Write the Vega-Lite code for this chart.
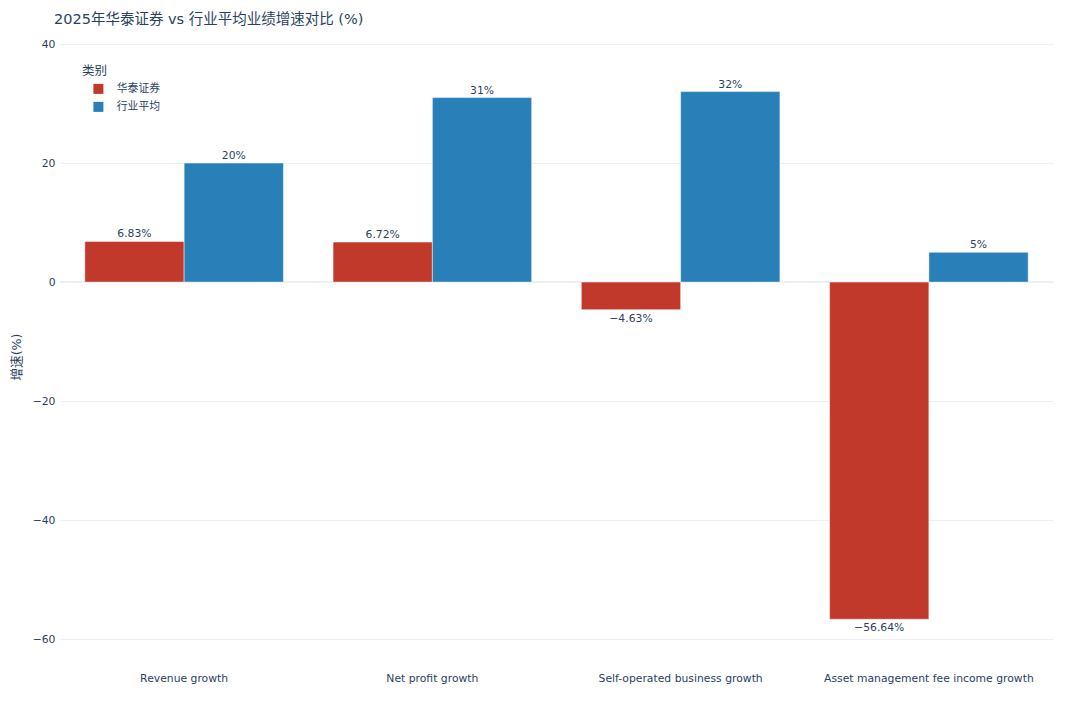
{
  "$schema": "https://vega.github.io/schema/vega-lite/v6.json",
  "autosize": {"type": "none"},
  "width": 993,
  "height": 625,
  "padding": {"left": 60, "top": 44, "right": 27, "bottom": 51},
  "background": "white",
  "config": {
    "font": "DejaVu Sans, Noto Sans CJK SC",
    "view": {"stroke": null},
    "axis": {"labelColor": "#2a3f5f", "titleColor": "#2a3f5f", "labelFont": "DejaVu Sans, Noto Sans CJK SC", "titleFont": "DejaVu Sans, Noto Sans CJK SC"},
    "legend": {"labelFont": "DejaVu Sans, Noto Sans CJK SC", "titleFont": "DejaVu Sans, Noto Sans CJK SC"}
  },
  "title": {
    "text": "2025年华泰证券 vs 行业平均业绩增速对比 (%)",
    "anchor": "start",
    "frame": "group",
    "dx": -6,
    "offset": 11,
    "fontSize": 14.5,
    "fontWeight": "normal",
    "color": "#2a3f5f",
    "font": "DejaVu Sans, Noto Sans CJK SC"
  },
  "data": {
    "values": [
      {"metric": "Revenue growth", "category": "华泰证券", "value": 6.83},
      {"metric": "Revenue growth", "category": "行业平均", "value": 20},
      {"metric": "Net profit growth", "category": "华泰证券", "value": 6.72},
      {"metric": "Net profit growth", "category": "行业平均", "value": 31},
      {"metric": "Self-operated business growth", "category": "华泰证券", "value": -4.63},
      {"metric": "Self-operated business growth", "category": "行业平均", "value": 32},
      {"metric": "Asset management fee income growth", "category": "华泰证券", "value": -56.64},
      {"metric": "Asset management fee income growth", "category": "行业平均", "value": 5}
    ]
  },
  "transform": [
    {"calculate": "format(datum.value, '.4~g') + '%'", "as": "label"}
  ],
  "encoding": {
    "x": {
      "field": "metric",
      "type": "nominal",
      "sort": null,
      "scale": {"paddingInner": 0.2, "paddingOuter": 0.1},
      "axis": {"title": null, "labelAngle": 0, "ticks": false, "domain": false, "labelPadding": 3, "labelFontSize": 10.8, "labelLimit": 0, "grid": false}
    },
    "xOffset": {"field": "category", "type": "nominal", "sort": ["华泰证券", "行业平均"], "scale": {"paddingInner": 0, "paddingOuter": 0}},
    "y": {
      "field": "value",
      "type": "quantitative",
      "scale": {"domain": [-65, 40], "nice": false, "zero": false},
      "axis": {
        "title": "增速(%)",
        "titleFontSize": 12.6,
        "titleFontWeight": "normal",
        "titlePadding": 9,
        "values": [-60, -40, -20, 0, 20, 40],
        "ticks": false,
        "domain": false,
        "labelPadding": 5,
        "labelFontSize": 10.8,
        "gridColor": "#ebf0f8",
        "gridWidth": 1
      }
    }
  },
  "layer": [
    {
      "mark": {"type": "rule", "stroke": "#ebf0f8", "strokeWidth": 2},
      "encoding": {"y": {"datum": 0}, "x": {"value": 0}, "x2": {"value": 993}, "xOffset": null}
    },
    {
      "mark": {"type": "bar", "stroke": "white", "strokeWidth": 0.8, "strokeOpacity": 0.6},
      "encoding": {
        "color": {
          "field": "category",
          "type": "nominal",
          "sort": ["华泰证券", "行业平均"],
          "scale": {"domain": ["华泰证券", "行业平均"], "range": ["#c0392b", "#2980b9"]},
          "legend": {
            "title": "类别",
            "orient": "none",
            "legendX": 22,
            "legendY": 21,
            "symbolType": "square",
            "symbolSize": 100,
            "symbolStrokeWidth": 0,
            "symbolOffset": 11,
            "titleFontSize": 12.5,
            "titleFontWeight": "normal",
            "titleColor": "#2a3f5f",
            "labelColor": "#2a3f5f",
            "labelFontSize": 10.8,
            "labelOffset": 13,
            "rowPadding": 6,
            "titlePadding": 6,
            "padding": 0,
            "offset": 0
          }
        }
      }
    },
    {
      "transform": [{"filter": "datum.value >= 0"}],
      "mark": {"type": "text", "baseline": "bottom", "dy": -2, "fontSize": 10.8, "color": "#2a3f5f"},
      "encoding": {"text": {"field": "label"}}
    },
    {
      "transform": [{"filter": "datum.value < 0"}],
      "mark": {"type": "text", "baseline": "top", "dy": 3, "fontSize": 10.8, "color": "#2a3f5f"},
      "encoding": {"text": {"field": "label"}}
    }
  ]
}
